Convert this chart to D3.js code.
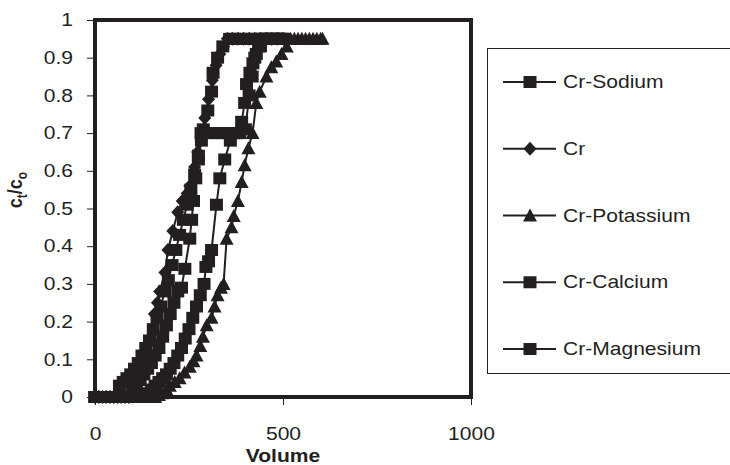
<!DOCTYPE html>
<html>
<head>
<meta charset="utf-8">
<script src="https://cdn.jsdelivr.net/npm/d3@7"></script>
<style>
  body { margin: 0; background: #fff; }
  text { font-family: "Liberation Sans", Arial, sans-serif; fill: #231f20; }
</style>
</head>
<body>
<div id="vis"></div>
<script>
// series data: [volume, ct/co]
let sodium = [[0,0],[10,0],[20,0],[30,0],[40,0],[50,0],[60,0],[65,0.03],[75,0.04],[85,0.05],[95,0.06],
  [105,0.075],[115,0.09],[125,0.11],[135,0.13],[145,0.15],[155,0.18],[165,0.21],[175,0.24],[185,0.28],
  [195,0.31],[205,0.35],[215,0.39],[225,0.43],[235,0.47],[245,0.51],[255,0.55],[265,0.59],[275,0.63],
  [283,0.68],[288,0.71],[300,0.76],[310,0.81],[314,0.86],[326,0.9],[340,0.93],[358,0.95],[370,0.95],
  [385,0.95],[400,0.95],[415,0.95],[430,0.95],[445,0.95],[460,0.95],[475,0.95],[490,0.95],[500,0.95]];

let cr = [[0,0],[10,0],[20,0],[30,0],[40,0],[50,0],[60,0],[70,0],[80,0],[90,0],[100,0.01],[110,0.03],
  [120,0.05],[130,0.08],[140,0.11],[151,0.15],[158,0.22],[166,0.25],[172,0.28],[186,0.33],[194,0.39],
  [207,0.44],[220,0.49],[232,0.52],[245,0.54],[252,0.56],[265,0.61],[273,0.65],[282,0.69],[292,0.74],
  [302,0.79],[312,0.84],[322,0.88],[332,0.91],[342,0.93],[352,0.95],[365,0.95],[380,0.95],[395,0.95],
  [410,0.95],[425,0.95],[440,0.95],[455,0.95],[470,0.95],[485,0.95],[500,0.95]];

let potassium = [[0,0],[10,0],[20,0],[30,0],[40,0],[50,0],[60,0],[70,0],[80,0],[90,0],[100,0],[110,0],
  [120,0],[130,0],[140,0],[150,0],[160,0],[170,0.005],[178,0.01],[190,0.02],[199,0.03],[212,0.04],
  [225,0.05],[238,0.065],[252,0.08],[262,0.095],[270,0.11],[280,0.135],[287,0.16],[297,0.19],[310,0.21],
  [318,0.24],[326,0.27],[335,0.29],[342,0.3],[350,0.42],[363,0.45],[369,0.48],[380,0.52],[390,0.57],
  [398,0.615],[408,0.66],[419,0.7],[429,0.78],[438,0.81],[456,0.85],[469,0.875],[482,0.89],[496,0.91],
  [510,0.93],[520,0.95],[530,0.95],[540,0.95],[550,0.95],[560,0.95],[570,0.95],[580,0.95],[590,0.95],
  [600,0.95],[605,0.95]];

let calcium = [[0,0],[10,0],[20,0],[30,0],[40,0],[50,0],[60,0],[70,0],[80,0],[90,0],[100,0.02],[110,0.03],
  [120,0.045],[130,0.06],[140,0.075],[150,0.09],[160,0.11],[170,0.13],[180,0.16],[190,0.19],[200,0.22],
  [210,0.25],[220,0.28],[230,0.29],[239,0.34],[252,0.42],[257,0.47],[262,0.52],[268,0.58],[275,0.64],
  [282,0.7],[295,0.7],[310,0.7],[325,0.7],[340,0.7],[355,0.7],[370,0.7],[385,0.7],[400,0.71],[410,0.8],
  [418,0.85],[425,0.9],[435,0.93],[445,0.95],[460,0.95],[475,0.95],[490,0.95],[500,0.95]];

let magnesium = [[0,0],[10,0],[20,0],[30,0],[40,0],[50,0],[60,0],[70,0],[80,0],[90,0],[100,0],[110,0],
  [120,0],[130,0],[140,0.01],[150,0.02],[160,0.03],[170,0.04],[180,0.05],[190,0.06],[200,0.075],
  [210,0.09],[220,0.11],[230,0.13],[240,0.155],[250,0.18],[260,0.21],[270,0.24],[280,0.27],[290,0.3],
  [295,0.345],[302,0.36],[310,0.39],[323,0.51],[332,0.58],[345,0.63],[360,0.68],[375,0.7],[390,0.73],
  [398,0.78],[403,0.83],[412,0.86],[420,0.885],[429,0.91],[440,0.93],[450,0.95],[465,0.95],[480,0.95],
  [500,0.95]];

let seriesNames = ["Cr-Sodium", "Cr", "Cr-Potassium", "Cr-Calcium", "Cr-Magnesium"];
let seriesData = [sodium, cr, potassium, calcium, magnesium];
let seriesSymbols = ["square", "diamond", "triangle", "square", "square"];

let xTicks = [0, 500, 1000];
let yTicks = [0, 0.1, 0.2, 0.3, 0.4, 0.5, 0.6, 0.7, 0.8, 0.9, 1];

let width = 730, height = 465;
let margin = {top: 20, bottom: 68, left: 95, right: 259};
// the source picture is a little wider than tall, so text is stretched
let stretch = 1.17;

let svg = d3.select("#vis").append("svg")
        .attr("width", width)
        .attr("height", height);

let xScale = d3.scaleLinear()
        .domain([0, 1000])
        .range([margin.left, width - margin.right]);

let yScale = d3.scaleLinear()
        .domain([0, 1])
        .range([height - margin.bottom, margin.top]);

function symbolPath(kind) {
  if(kind == "square") return "M-6.5,-6L6.5,-6L6.5,6L-6.5,6Z";
  if(kind == "diamond") return "M0,-7L6.5,0L0,7L-6.5,0Z";
  return "M0,-7L7,6L-7,6Z";
}

// axes
let xAxis = d3.axisBottom(xScale)
        .tickValues(xTicks)
        .tickSize(8)
        .tickSizeOuter(0)
        .tickFormat(d3.format("d"));

svg.append("g")
  .attr("transform", "translate(0," + yScale(0) + ")")
  .call(xAxis)
  .call(g => g.select(".domain").remove())
  .call(g => g.selectAll("line").attr("stroke", "#231f20"))
  .call(g => g.selectAll("text")
        .attr("font-size", 18)
        .attr("dy", 0)
        .attr("x", 0)
        .attr("y", 43)
        .attr("transform", "scale(" + stretch + ",1)")
        .attr("font-family", "Liberation Sans, Arial, sans-serif").attr("fill", "#231f20"));

let yAxis = d3.axisLeft(yScale)
        .tickValues(yTicks)
        .tickSize(8)
        .tickSizeOuter(0)
        .tickFormat(d => d3.format("")(d));

svg.append("g")
  .attr("transform", "translate(" + xScale(0) + ",0)")
  .call(yAxis)
  .call(g => g.select(".domain").remove())
  .call(g => g.selectAll("line").attr("stroke", "#231f20"))
  .call(g => g.selectAll("text")
        .attr("font-size", 18)
        .attr("x", -22 / stretch)
        .attr("transform", "scale(" + stretch + ",1)")
        .attr("font-family", "Liberation Sans, Arial, sans-serif").attr("fill", "#231f20"));

// series lines and markers
let line = d3.line()
        .x(d => xScale(d[0]))
        .y(d => yScale(d[1]));

let plot = svg.append("g").attr("id", "series");

for(let i = 0; i < seriesData.length; i++) {
  let g = plot.append("g").attr("class", "series" + i);
  g.append("path")
    .datum(seriesData[i])
    .attr("d", line)
    .attr("fill", "none")
    .attr("stroke", "#231f20")
    .attr("stroke-width", 2);
  g.selectAll("path.marker")
    .data(seriesData[i])
    .join("path")
    .attr("class", "marker")
    .attr("d", symbolPath(seriesSymbols[i]))
    .attr("transform", d => "translate(" + xScale(d[0]) + "," + yScale(d[1]) + ")")
    .attr("fill", "#231f20");
}

// thick plot area frame
svg.append("rect")
  .attr("x", xScale(0))
  .attr("y", yScale(1))
  .attr("width", xScale(1000) - xScale(0))
  .attr("height", yScale(0) - yScale(1))
  .attr("fill", "none")
  .attr("stroke", "#231f20")
  .attr("stroke-width", 4);

// axis titles
svg.append("text")
  .attr("transform", "translate(" + (xScale(0) + xScale(1000)) / 2 + ",462) scale(" + stretch + ",1)")
  .attr("text-anchor", "middle")
  .attr("font-size", 18)
  .attr("font-weight", "bold")
  .text("Volume");

let yTitle = svg.append("text")
  .attr("transform", "translate(22,190) rotate(-90) scale(1," + stretch + ")")
  .attr("text-anchor", "middle")
  .attr("font-size", 18)
  .attr("font-weight", "bold");
yTitle.append("tspan").text("c");
yTitle.append("tspan").attr("font-size", 12).attr("dy", 4).text("t");
yTitle.append("tspan").attr("dy", -4).text("/c");
yTitle.append("tspan").attr("font-size", 12).attr("dy", 4).text("o");

// legend
let legend = svg.append("g").attr("id", "legend");
legend.append("rect")
  .attr("x", 487.5)
  .attr("y", 48.5)
  .attr("width", 260)
  .attr("height", 325)
  .attr("fill", "#fff")
  .attr("stroke", "#231f20")
  .attr("stroke-width", 1);

let legendY = d3.scalePoint()
        .domain(seriesNames)
        .range([82, 349]);

let items = legend.selectAll("g.item")
  .data(seriesNames)
  .join("g")
  .attr("class", "item")
  .attr("transform", d => "translate(0," + legendY(d) + ")");

items.append("line")
  .attr("x1", 503).attr("x2", 556)
  .attr("stroke", "#231f20")
  .attr("stroke-width", 2);

items.append("path")
  .attr("d", (d, i) => symbolPath(seriesSymbols[i]))
  .attr("transform", "translate(530,0)")
  .attr("fill", "#231f20");

items.append("text")
  .attr("transform", "translate(563,6) scale(" + stretch + ",1)")
  .attr("font-size", 18)
  .text(d => d);
</script>
</body>
</html>
